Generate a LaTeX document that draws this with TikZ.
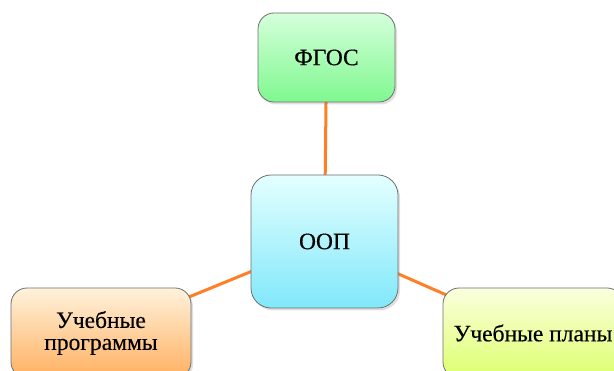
\documentclass[tikz,border=0pt]{standalone}
\usepackage{fontspec}
\setmainfont{Liberation Serif}
\newfontfamily\boxfont[FakeBold=0.35]{Liberation Serif}
\usetikzlibrary{shadows,backgrounds}
\definecolor{lineor}{HTML}{FF7F27}
\definecolor{edge}{HTML}{6E6E6E}
\tikzset{
  boxbase/.style={draw=edge, line width=0.8pt, rounded corners=16pt, align=center,
    font=\boxfont\fontsize{23.5}{22}\selectfont, inner sep=0pt,
    drop shadow={opacity=0.25, shadow xshift=2pt, shadow yshift=-2.5pt}},
  conn/.style={draw=lineor, line width=3pt}
}
\begin{document}
\begin{tikzpicture}[x=1pt,y=-1pt]
\useasboundingbox (0,0) rectangle (614,371);
\clip (0,0) rectangle (614,371);
\node[boxbase, minimum width=137pt, minimum height=89pt, top color={rgb,255:red,212;green,255;blue,218}, bottom color={rgb,255:red,128;green,248;blue,144}] (fgos) at (326.5,57.5) {ФГОС};
\node[boxbase, rounded corners=20pt, minimum width=147pt, minimum height=133pt, top color={rgb,255:red,228;green,255;blue,255}, bottom color={rgb,255:red,128;green,232;blue,250}] (oop) at (324.5,241.5) {ООП};
\node[boxbase, minimum width=180pt, minimum height=90pt, top color={rgb,255:red,255;green,242;blue,220}, bottom color={rgb,255:red,255;green,176;blue,96}] (prog) at (101,333) {Учебные\\программы};
\node[boxbase, minimum width=180pt, minimum height=90pt, top color={rgb,255:red,250;green,255;blue,222}, bottom color={rgb,255:red,222;green,255;blue,110}] (plan) at (533,333) {Учебные планы};
\begin{scope}[on background layer]
\draw[conn] (fgos.center) -- (oop.center);
\draw[conn] (prog.center) -- (oop.center);
\draw[conn] (plan.center) -- (oop.center);
\end{scope}
\end{tikzpicture}
\end{document}
